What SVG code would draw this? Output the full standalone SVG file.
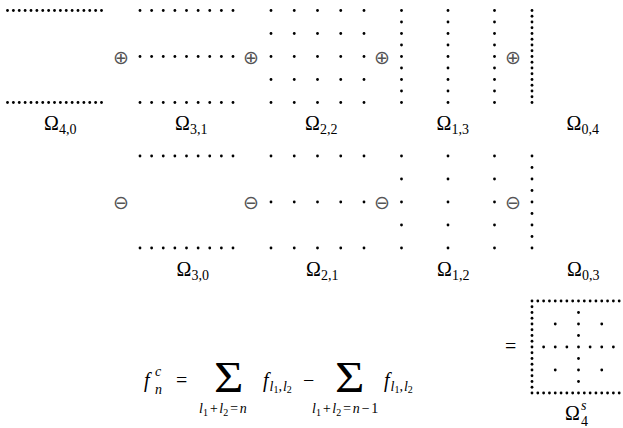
<svg xmlns="http://www.w3.org/2000/svg" xmlns:xlink="http://www.w3.org/1999/xlink" width="623" height="428" viewBox="0 0 623 428">
<style>
.d{fill:#000}
.op{font-family:"DejaVu Sans",sans-serif;font-size:19px;fill:#555;text-anchor:middle}
.lab{font-family:"Liberation Serif","DejaVu Serif",serif;font-size:20px;fill:#000}
.sub{font-size:14px}
.dig{font-size:10px;font-style:normal}
.it{font-style:italic}
.sig{font-family:"Liberation Serif","DejaVu Serif",serif;font-size:44px;fill:#000}
</style>
<defs><circle id="p" r="1.4" class="d"/></defs>
<rect width="623" height="428" fill="#fff"/>

<g id="omega40">
<g id="o40r">
<use href="#p" x="7.5" y="10.5"/><use href="#p" x="13.38" y="10.5"/><use href="#p" x="19.25" y="10.5"/><use href="#p" x="25.13" y="10.5"/><use href="#p" x="31" y="10.5"/><use href="#p" x="36.88" y="10.5"/><use href="#p" x="42.75" y="10.5"/><use href="#p" x="48.63" y="10.5"/><use href="#p" x="54.5" y="10.5"/><use href="#p" x="60.38" y="10.5"/><use href="#p" x="66.25" y="10.5"/><use href="#p" x="72.13" y="10.5"/><use href="#p" x="78" y="10.5"/><use href="#p" x="83.88" y="10.5"/><use href="#p" x="89.75" y="10.5"/><use href="#p" x="95.63" y="10.5"/><use href="#p" x="101.5" y="10.5"/>
</g>
<use href="#o40r" y="92"/>
<text class="lab" x="44" y="130">Ω<tspan class="sub" dy="4">4,0</tspan></text>
</g>

<g id="omega31">
<g id="o31r">
<use href="#p" x="140" y="10.5"/><use href="#p" x="151.63" y="10.5"/><use href="#p" x="163.25" y="10.5"/><use href="#p" x="174.88" y="10.5"/><use href="#p" x="186.5" y="10.5"/><use href="#p" x="198.13" y="10.5"/><use href="#p" x="209.75" y="10.5"/><use href="#p" x="221.38" y="10.5"/><use href="#p" x="233" y="10.5"/>
</g>
<use href="#o31r" y="46"/><use href="#o31r" y="92"/>
<text class="lab" x="175" y="130">Ω<tspan class="sub" dy="4">3,1</tspan></text>
</g>

<g id="omega22">
<g id="o22r">
<use href="#p" x="271" y="10.5"/><use href="#p" x="294.25" y="10.5"/><use href="#p" x="317.5" y="10.5"/><use href="#p" x="340.75" y="10.5"/><use href="#p" x="364" y="10.5"/>
</g>
<use href="#o22r" y="23"/><use href="#o22r" y="46"/><use href="#o22r" y="69"/><use href="#o22r" y="92"/>
<text class="lab" x="305" y="130">Ω<tspan class="sub" dy="4">2,2</tspan></text>
</g>

<g id="omega13">
<g id="o13c">
<use href="#p" x="401.5" y="10.5"/><use href="#p" x="401.5" y="22"/><use href="#p" x="401.5" y="33.5"/><use href="#p" x="401.5" y="45"/><use href="#p" x="401.5" y="56.5"/><use href="#p" x="401.5" y="68"/><use href="#p" x="401.5" y="79.5"/><use href="#p" x="401.5" y="91"/><use href="#p" x="401.5" y="102.5"/>
</g>
<use href="#o13c" x="46.5"/><use href="#o13c" x="93"/>
<text class="lab" x="436.5" y="130">Ω<tspan class="sub" dy="4">1,3</tspan></text>
</g>

<g id="omega04">
<use href="#p" x="532" y="10.5"/><use href="#p" x="532" y="16.25"/><use href="#p" x="532" y="22"/><use href="#p" x="532" y="27.75"/><use href="#p" x="532" y="33.5"/><use href="#p" x="532" y="39.25"/><use href="#p" x="532" y="45"/><use href="#p" x="532" y="50.75"/><use href="#p" x="532" y="56.5"/><use href="#p" x="532" y="62.25"/><use href="#p" x="532" y="68"/><use href="#p" x="532" y="73.75"/><use href="#p" x="532" y="79.5"/><use href="#p" x="532" y="85.25"/><use href="#p" x="532" y="91"/><use href="#p" x="532" y="96.75"/><use href="#p" x="532" y="102.5"/>
<text class="lab" x="566.5" y="130">Ω<tspan class="sub" dy="4">0,4</tspan></text>
</g>

<g id="omega30">
<use href="#o31r" y="145.5"/><use href="#o31r" y="237.5"/>
<text class="lab" x="176.5" y="276">Ω<tspan class="sub" dy="4">3,0</tspan></text>
</g>

<g id="omega21">
<use href="#o22r" y="145.5"/><use href="#o22r" y="191.5"/><use href="#o22r" y="237.5"/>
<text class="lab" x="306" y="276">Ω<tspan class="sub" dy="4">2,1</tspan></text>
</g>

<g id="omega12">
<g id="o12c">
<use href="#p" x="401.5" y="156"/><use href="#p" x="401.5" y="179"/><use href="#p" x="401.5" y="202"/><use href="#p" x="401.5" y="225"/><use href="#p" x="401.5" y="248"/>
</g>
<use href="#o12c" x="46.5"/><use href="#o12c" x="93"/>
<text class="lab" x="437" y="276">Ω<tspan class="sub" dy="4">1,2</tspan></text>
</g>

<g id="omega03">
<use href="#p" x="532" y="156"/><use href="#p" x="532" y="167.5"/><use href="#p" x="532" y="179"/><use href="#p" x="532" y="190.5"/><use href="#p" x="532" y="202"/><use href="#p" x="532" y="213.5"/><use href="#p" x="532" y="225"/><use href="#p" x="532" y="236.5"/><use href="#p" x="532" y="248"/>
<text class="lab" x="567" y="276">Ω<tspan class="sub" dy="4">0,3</tspan></text>
</g>

<g id="operators">
<text class="op" x="121" y="63.5">⊕</text>
<text class="op" x="251" y="63.5">⊕</text>
<text class="op" x="382" y="63.5">⊕</text>
<text class="op" x="513" y="63.5">⊕</text>
<text class="op" x="121" y="208.5">⊖</text>
<text class="op" x="251" y="208.5">⊖</text>
<text class="op" x="382" y="208.5">⊖</text>
<text class="op" x="513" y="208.5">⊖</text>
</g>

<g id="sparse">
<g id="spr">
<use href="#p" x="532" y="301"/><use href="#p" x="537.81" y="301"/><use href="#p" x="543.63" y="301"/><use href="#p" x="549.44" y="301"/><use href="#p" x="555.25" y="301"/><use href="#p" x="561.06" y="301"/><use href="#p" x="566.88" y="301"/><use href="#p" x="572.69" y="301"/><use href="#p" x="578.5" y="301"/><use href="#p" x="584.31" y="301"/><use href="#p" x="590.13" y="301"/><use href="#p" x="595.94" y="301"/><use href="#p" x="601.75" y="301"/><use href="#p" x="607.56" y="301"/><use href="#p" x="613.38" y="301"/><use href="#p" x="619.19" y="301"/>
</g>
<use href="#spr" y="92"/>
<use href="#p" x="532" y="306.75"/><use href="#p" x="532" y="312.5"/><use href="#p" x="532" y="318.25"/><use href="#p" x="532" y="324"/><use href="#p" x="532" y="329.75"/><use href="#p" x="532" y="335.5"/><use href="#p" x="532" y="341.25"/><use href="#p" x="532" y="347"/><use href="#p" x="532" y="352.75"/><use href="#p" x="532" y="358.5"/><use href="#p" x="532" y="364.25"/><use href="#p" x="532" y="370"/><use href="#p" x="532" y="375.75"/><use href="#p" x="532" y="381.5"/><use href="#p" x="532" y="387.25"/>
<use href="#p" x="543.63" y="347"/><use href="#p" x="555.25" y="347"/><use href="#p" x="566.88" y="347"/><use href="#p" x="578.5" y="347"/><use href="#p" x="590.13" y="347"/><use href="#p" x="601.75" y="347"/><use href="#p" x="613.38" y="347"/>
<use href="#p" x="578.5" y="312.5"/><use href="#p" x="578.5" y="324"/><use href="#p" x="578.5" y="335.5"/><use href="#p" x="578.5" y="358.5"/><use href="#p" x="578.5" y="370"/><use href="#p" x="578.5" y="381.5"/>
<use href="#p" x="555.25" y="324"/><use href="#p" x="601.75" y="324"/><use href="#p" x="555.25" y="370"/><use href="#p" x="601.75" y="370"/>
<text class="lab" x="505" y="353">=</text>
<text class="lab" x="565" y="420">Ω</text>
<text class="lab sub it" x="581" y="410">s</text>
<text class="lab sub" x="581" y="426">4</text>
</g>

<g id="formula">
<text class="lab it" x="144" y="387">f</text>
<text class="lab sub it" x="155" y="376">c</text>
<text class="lab sub it" x="155" y="394">n</text>
<text class="lab" x="176" y="387">=</text>
<text class="sig" x="214" y="392" transform="translate(214 392) scale(1.15 1) translate(-214 -392)">Σ</text>
<text class="lab sub it" x="199" y="413">l<tspan class="dig" dy="3">1</tspan><tspan dx="1" dy="-3">+</tspan><tspan dx="1">l</tspan><tspan class="dig" dy="3">2</tspan><tspan dx="1" dy="-3">=</tspan><tspan dx="1">n</tspan></text>
<text class="lab it" x="263" y="387">f<tspan class="sub" dy="4" dx="1">l</tspan><tspan class="dig" dy="2">1</tspan><tspan class="sub" dy="-2">,</tspan><tspan class="sub" dx="1">l</tspan><tspan class="dig" dy="2">2</tspan></text>
<text class="lab" x="303" y="387">−</text>
<text class="sig" x="335" y="392" transform="translate(335 392) scale(1.15 1) translate(-335 -392)">Σ</text>
<text class="lab sub it" x="312" y="413">l<tspan class="dig" dy="3">1</tspan><tspan dx="1" dy="-3">+</tspan><tspan dx="1">l</tspan><tspan class="dig" dy="3">2</tspan><tspan dx="1" dy="-3">=</tspan><tspan dx="1">n</tspan><tspan dx="1">−</tspan><tspan dx="1" font-style="normal">1</tspan></text>
<text class="lab it" x="384" y="387">f<tspan class="sub" dy="4" dx="1">l</tspan><tspan class="dig" dy="2">1</tspan><tspan class="sub" dy="-2">,</tspan><tspan class="sub" dx="1">l</tspan><tspan class="dig" dy="2">2</tspan></text>
</g>
</svg>
